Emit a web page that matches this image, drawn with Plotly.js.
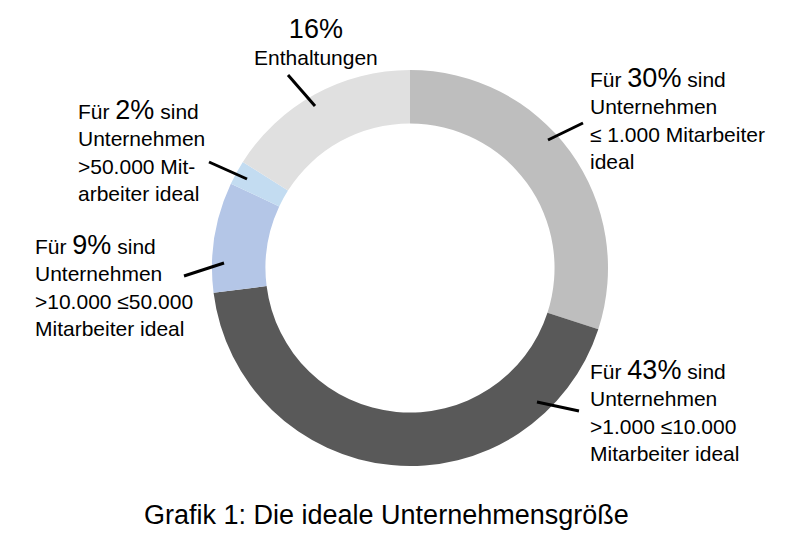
<!DOCTYPE html>
<html>
<head>
<meta charset="utf-8">
<script src="https://cdn.plot.ly/plotly-3.0.1.min.js"></script>
<style>
  body { margin: 0; background: #fff; }
  #chart { width: 800px; height: 550px; }
</style>
</head>
<body>
<div id="chart"></div>
<script>
// Anteile, im Uhrzeigersinn ab 12 Uhr
const segments = ["≤ 1.000", ">1.000 ≤10.000", ">10.000 ≤50.000", ">50.000", "Enthaltungen"];
const shares = [30, 43, 9, 2, 16];
const colors = ["#bebebe", "#595959", "#b4c6e7", "#c3dcf1", "#e0e0e0"];

const W = 800, H = 550;
const px = (x) => x / W;
const py = (y) => 1 - y / H;

// ring: Mittelpunkt (410, 268), Radius 198
const cx = 410, cy = 268, r = 198;

let trace = {
    type: "pie",
    labels: segments,
    values: shares,
    sort: false,
    direction: "clockwise",
    rotation: 0,
    hole: 0.73,
    textinfo: "none",
    hoverinfo: "none",
    marker: { colors: colors, line: { width: 0 } },
    domain: { x: [px(cx - r), px(cx + r)], y: [py(cy + r), py(cy - r)] },
};

const big = (s) => '<span style="font-size:27px">' + s + '</span>';

const labelText = [
    "Für " + big(shares[0] + "%") + " sind<br>Unternehmen<br>≤ 1.000 Mitarbeiter<br>ideal",
    "Für " + big(shares[1] + "%") + " sind<br>Unternehmen<br>>1.000 ≤10.000<br>Mitarbeiter ideal",
    "Für " + big(shares[2] + "%") + " sind<br>Unternehmen<br>>10.000 ≤50.000<br>Mitarbeiter ideal",
    "Für " + big(shares[3] + "%") + " sind<br>Unternehmen<br>>50.000 Mit-<br>arbeiter ideal",
    big(shares[4] + "%") + "<br>Enthaltungen",
];

const ann = (x, y, text, xanchor, align) => ({
    xref: "paper", yref: "paper",
    x: px(x), y: py(y),
    xanchor: xanchor, yanchor: "top", align: align,
    text: text, showarrow: false,
    font: { family: "Liberation Sans, Arial, sans-serif", size: 21, color: "#000" },
});

const line = (x0, y0, x1, y1) => ({
    type: "line", xref: "paper", yref: "paper",
    x0: px(x0), y0: py(y0), x1: px(x1), y1: py(y1),
    line: { color: "#000", width: 3 },
});

let layout = {
    width: W,
    height: H,
    margin: { l: 0, r: 0, t: 0, b: 0 },
    paper_bgcolor: "#fff",
    showlegend: false,
    annotations: [
        ann(588, 61, labelText[0], "left", "left"),
        ann(588, 353, labelText[1], "left", "left"),
        ann(33, 228, labelText[2], "left", "left"),
        ann(76, 93, labelText[3], "left", "left"),
        ann(316, 12, labelText[4], "center", "center"),
        {
            xref: "paper", yref: "paper", x: px(386), y: py(515),
            xanchor: "center", yanchor: "middle", showarrow: false,
            text: "Grafik 1: Die ideale Unternehmensgröße",
            font: { family: "Liberation Sans, Arial, sans-serif", size: 27, color: "#000" },
        },
    ],
    shapes: [
        line(548, 140, 583, 123),
        line(537, 402, 579, 411),
        line(184, 276, 224, 263),
        line(209, 162, 247, 179),
        line(288, 75, 315, 106),
    ],
};

let config = { responsive: false, displayModeBar: false, staticPlot: true };
Plotly.newPlot("chart", [trace], layout, config);
</script>
</body>
</html>
